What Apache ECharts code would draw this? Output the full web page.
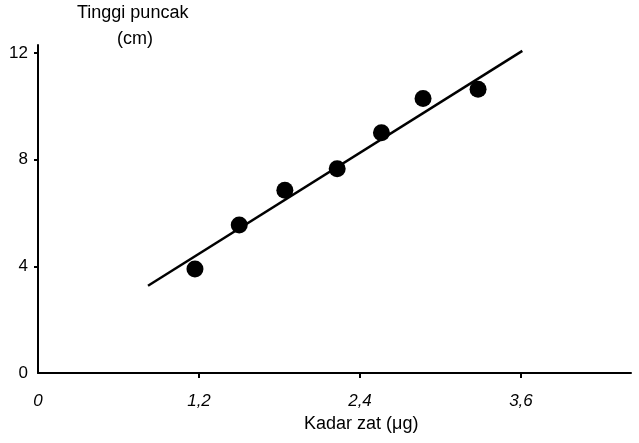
<!DOCTYPE html>
<html>
<head>
<meta charset="utf-8">
<script src="https://cdn.jsdelivr.net/npm/echarts@6/dist/echarts.min.js"></script>
<style>
    html, body { margin: 0; padding: 0; background: #fff; }
    #chart { width: 639px; height: 443px; }
</style>
</head>
<body>
<div id="chart"></div>
<script>
// data
const kadar = [1.17, 1.5, 1.84, 2.23, 2.56, 2.87, 3.28]
const tinggi = [3.9, 5.55, 6.85, 7.66, 9.01, 10.29, 10.64]
// fitted line end points
const garisX = [0.82, 3.61]
const garisY = [3.27, 12.08]
const xTicks = [0, 1.2, 2.4, 3.6]
const yTicks = [0, 4, 8, 12]

const fontFam = '"Liberation Sans", Arial, sans-serif'
const chart = echarts.init(document.getElementById('chart'))

const option = {
    animation: false,
    backgroundColor: '#fff',
    grid: { left: 38, right: 8, top: 45, bottom: 70 },
    xAxis: {
        type: 'value',
        min: 0,
        max: 4.42,
        axisLine: { lineStyle: { color: '#000', width: 2 } },
        axisTick: { show: true, inside: false, length: 5, customValues: xTicks.slice(1), lineStyle: { color: '#000', width: 2 } },
        axisLabel: {
            customValues: xTicks,
            color: '#000',
            fontFamily: fontFam,
            fontSize: 17,
            fontStyle: 'italic',
            margin: 20,
            formatter: v => String(v).replace('.', ',')
        },
        splitLine: { show: false }
    },
    yAxis: {
        type: 'value',
        min: 0,
        max: 12.3,
        axisLine: { show: true, lineStyle: { color: '#000', width: 2 } },
        axisTick: { show: true, length: 4, customValues: yTicks.slice(1), lineStyle: { color: '#000', width: 2 } },
        axisLabel: {
            customValues: yTicks,
            color: '#000',
            fontFamily: fontFam,
            fontSize: 17,
            margin: 10
        },
        splitLine: { show: false }
    },
    graphic: [
        { type: 'text', left: 77, top: 4, style: { text: 'Tinggi puncak', fill: '#000', font: '18px ' + fontFam } },
        { type: 'text', left: 117, top: 30, style: { text: '(cm)', fill: '#000', font: '18px ' + fontFam } },
        { type: 'text', left: 304, top: 415, style: { text: 'Kadar zat (\u03bcg)', fill: '#000', font: '18px ' + fontFam } }
    ],
    series: [
        {
            type: 'line',
            data: garisX.map((x, i) => [x, garisY[i]]),
            symbol: 'none',
            lineStyle: { color: '#000', width: 2.5 },
            z: 2
        },
        {
            type: 'scatter',
            data: kadar.map((x, i) => [x, tinggi[i]]),
            symbolSize: 17,
            itemStyle: { color: '#000', opacity: 1 },
            z: 3
        }
    ]
}
chart.setOption(option)
</script>
</body>
</html>
